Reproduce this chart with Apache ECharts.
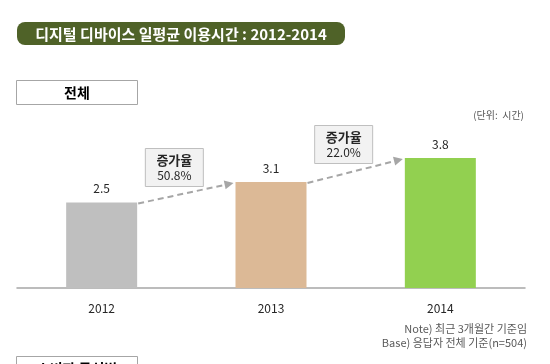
<!DOCTYPE html>
<html><head><meta charset="utf-8">
<script src="https://cdn.jsdelivr.net/npm/echarts@6/dist/echarts.min.js"></script>
<style>html,body{margin:0;padding:0;background:#fff;}#c{width:550px;height:364px;}</style>
</head><body><div id="c"></div>
<script>
const categories = ['2012', '2013', '2014'];
const values = [2.5, 3.1, 3.8];
const barColors = ['#bfbfbf', '#dcb996', '#92d050'];
const growth = ['50.8%', '22.0%'];
const FONT = '"Noto Sans CJK KR", "Noto Sans", sans-serif';

const chart = echarts.init(document.getElementById('c'), null, {renderer: 'canvas'});
const option = {
  animation: false,
  grid: {left: 17, right: 25, top: 117, bottom: 76},
  xAxis: {
    type: 'category', data: categories,
    axisLine: {lineStyle: {color: '#a6a6a6', width: 1.5}},
    axisTick: {show: false},
    axisLabel: {color: '#262626', fontSize: 12, fontFamily: FONT, margin: 14}
  },
  yAxis: {type: 'value', min: 0, max: 5, show: false, splitLine: {show: false}},
  series: [{
    type: 'bar', barWidth: 71,
    data: values.map((v, i) => ({value: v, itemStyle: {color: barColors[i]}})),
    label: {show: true, position: 'top', distance: 8, color: '#262626', fontSize: 12, fontFamily: FONT}
  }],
  graphic: []
};
chart.setOption(option);

const g = [];
// title banner
g.push({type: 'rect', shape: {x: 17, y: 22, width: 328, height: 23, r: 8}, style: {fill: '#4f6228'}});
g.push({type: 'text', x: 181, y: 34, style: {text: '디지털 디바이스 일평균 이용시간 : 2012-2014', fill: '#fff', font: 'bold 15px ' + FONT, align: 'center', verticalAlign: 'middle'}});
// section box
g.push({type: 'rect', shape: {x: 16.5, y: 80.5, width: 121, height: 24}, style: {fill: '#fff', stroke: '#a6a6a6', lineWidth: 1}});
g.push({type: 'text', x: 77, y: 92.5, style: {text: '전체', fill: '#000', font: 'bold 14px ' + FONT, align: 'center', verticalAlign: 'middle'}});
// bottom partial box
g.push({type: 'rect', shape: {x: 16.5, y: 356.5, width: 121, height: 24}, style: {fill: '#fff', stroke: '#a6a6a6', lineWidth: 1}});
g.push({type: 'text', x: 77, y: 369, style: {text: '소비자 특성별', fill: '#000', font: 'bold 14px ' + FONT, align: 'center', verticalAlign: 'middle'}});
// unit
g.push({type: 'text', x: 524, y: 115, style: {text: '(단위:  시간)', fill: '#595959', font: '10px ' + FONT, align: 'right', verticalAlign: 'middle'}});
// notes
g.push({type: 'text', x: 527, y: 329, style: {text: 'Note) 최근 3개월간 기준임', fill: '#595959', font: '11px ' + FONT, align: 'right', verticalAlign: 'middle'}});
g.push({type: 'text', x: 527, y: 343, style: {text: 'Base) 응답자 전체 기준(n=504)', fill: '#595959', font: '11px ' + FONT, align: 'right', verticalAlign: 'middle'}});

// arrows between bars, derived from the chart scales
const half = 35.5;
for (let i = 0; i < values.length - 1; i++) {
  const p0 = chart.convertToPixel({seriesIndex: 0}, [i, values[i]]);
  const p1 = chart.convertToPixel({seriesIndex: 0}, [i + 1, values[i + 1]]);
  const x0 = p0[0] + half + 1, y0 = p0[1] + 1;
  const x1 = p1[0] - half - 2, y1 = p1[1] + 1;
  const ang = Math.atan2(y1 - y0, x1 - x0);
  const L = 9, W = 4.5;
  const bx = x1 - L * Math.cos(ang), by = y1 - L * Math.sin(ang);
  g.push({type: 'line', shape: {x1: x0, y1: y0, x2: bx, y2: by}, style: {stroke: '#a6a6a6', lineWidth: 2, lineDash: [6, 4]}});
  g.push({type: 'polygon', shape: {points: [[x1, y1], [bx - W * Math.sin(ang), by + W * Math.cos(ang)], [bx + W * Math.sin(ang), by - W * Math.cos(ang)]]}, style: {fill: '#a6a6a6'}});
  // annotation box
  const cx = (x0 + x1) / 2;
  const bxl = cx - 43 + 2, bw = 58, bh = 38;
  const bt = i === 0 ? 148 : 125;
  g.push({type: 'rect', shape: {x: bxl + 0.5, y: bt + 0.5, width: bw, height: bh}, style: {fill: '#f2f2f2', stroke: '#bfbfbf', lineWidth: 1}});
  g.push({type: 'text', x: bxl + bw / 2 + 0.5, y: bt + 12, style: {text: '증가율', fill: '#262626', font: 'bold 13px ' + FONT, align: 'center', verticalAlign: 'middle'}});
  g.push({type: 'text', x: bxl + bw / 2 + 0.5, y: bt + 27, style: {text: growth[i], fill: '#262626', font: '12px ' + FONT, align: 'center', verticalAlign: 'middle'}});
}
chart.setOption({graphic: g});
</script>
</body></html>
